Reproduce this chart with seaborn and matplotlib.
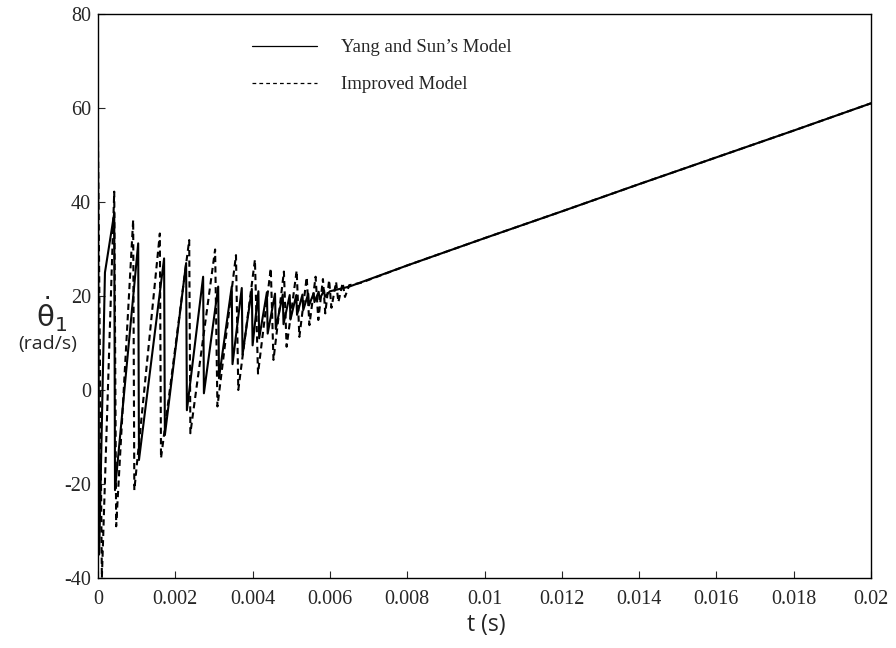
import matplotlib
matplotlib.use("Agg")
import matplotlib.pyplot as plt
import seaborn as sns
import pandas as pd
from matplotlib.lines import Line2D

# ---- data ----
yang_t = [0, 0.00003, 0.00018, 0.00042, 0.00044, 0.00104, 0.00106, 0.00171, 0.00173,
          0.00228, 0.00230, 0.00272, 0.00274, 0.00311, 0.00313, 0.00346, 0.00348,
          0.00372, 0.00374, 0.00398, 0.00400, 0.00415, 0.00417, 0.00437, 0.00439,
          0.00458, 0.00460, 0.00478, 0.00480, 0.00496, 0.00498, 0.00513, 0.00515,
          0.00529, 0.00531, 0.00544, 0.00546, 0.00558, 0.00560, 0.00571, 0.00573,
          0.00585, 0.00587, 0.00600, 0.0065, 0.008, 0.010, 0.012, 0.014, 0.016,
          0.018, 0.020]
yang_v = [53, -35, 25, 37.6, -21.3, 31.2, -14.9, 28, -9.6,
          27, -4.3, 24.1, -0.7, 22, 2.5, 22, 5.5,
          21.7, 7.5, 21.5, 9.5, 21, 11, 20.8, 12,
          20.5, 13, 20.3, 14, 20.2, 15, 20.2, 16,
          20.3, 17, 20.5, 18, 20.6, 18.7, 20.9, 19.3,
          21.2, 19.8, 21, 22, 26.5, 32.3, 38, 43.8, 49.5,
          55.2, 61]

improved_t = [0, 0.00010, 0.00042, 0.00047, 0.00091, 0.00094, 0.00160, 0.00163,
              0.00236, 0.00239, 0.00303, 0.00309, 0.00357, 0.00363, 0.00406, 0.00414,
              0.00447, 0.00454, 0.00481, 0.00488, 0.00514, 0.00521, 0.00540, 0.00547,
              0.00563, 0.00570, 0.00582, 0.00588, 0.00598, 0.00604, 0.00616, 0.00622,
              0.00633, 0.00639, 0.00650, 0.0068, 0.008, 0.010, 0.012, 0.014, 0.016,
              0.018, 0.020]
improved_v = [53, -40, 42.2, -29, 36.2, -21.3, 33.3, -14.5,
              31.9, -9.2, 29.9, -3.5, 28.7, 0, 27.7, 3.5,
              25.9, 6.4, 25.2, 9.2, 25.4, 11.3, 24, 13.8,
              24.1, 14.9, 23.6, 16.3, 23.4, 17.5, 23, 18.7,
              22.8, 19.8, 22.3, 22.8, 26.5, 32.3, 38, 43.8, 49.5,
              55.2, 61]

series_names = ["Yang and Sun\u2019s Model", "Improved Model"]
x_ticks = [0, 0.002, 0.004, 0.006, 0.008, 0.01, 0.012, 0.014, 0.016, 0.018, 0.02]
x_tick_labels = ["0", "0.002", "0.004", "0.006", "0.008", "0.01", "0.012",
                 "0.014", "0.016", "0.018", "0.02"]
y_ticks = [-40, -20, 0, 20, 40, 60, 80]

df = pd.concat([
    pd.DataFrame({"t": yang_t, "v": yang_v, "model": series_names[0]}),
    pd.DataFrame({"t": improved_t, "v": improved_v, "model": series_names[1]}),
], ignore_index=True)

sns.set_style("ticks")
plt.rcParams["font.family"] = ["Liberation Serif", "DejaVu Serif"]
plt.rcParams["mathtext.fontset"] = "dejavusans"
plt.rcParams["axes.unicode_minus"] = False

fig = plt.figure(figsize=(8.96, 6.48), dpi=100)
ax = fig.add_axes([98 / 896, 1 - 578 / 648, 773 / 896, 564 / 648])

sns.lineplot(data=df, x="t", y="v", hue="model", style="model",
             palette={series_names[0]: "black", series_names[1]: "black"},
             dashes={series_names[0]: "", series_names[1]: (3, 2)},
             estimator=None, sort=False, linewidth=1.5, legend=False, ax=ax)

ax.set_xlim(0, 0.02)
ax.set_ylim(-40, 80)
ax.set_xticks(x_ticks)
ax.set_xticklabels(x_tick_labels)
ax.set_yticks(y_ticks)
ax.tick_params(axis="both", direction="in", length=5, width=0.8, labelsize=14.5,
               top=False, right=False)
ax.tick_params(axis="x", pad=9)
ax.tick_params(axis="y", pad=5)
for s in ax.spines.values():
    s.set_visible(True)
    s.set_linewidth(1.0)
    s.set_color("black")
ax.set_xlabel("")
ax.set_ylabel("")

handles = [Line2D([], [], color="black", lw=0.9),
           Line2D([], [], color="black", lw=0.9, dashes=(3, 2.5))]
ax.legend(handles, series_names, loc="upper left",
          bbox_to_anchor=(0.177, 0.985), frameon=False, fontsize=13.5,
          handlelength=3.5, handletextpad=1.25, labelspacing=1.05)

fig.text(486 / 896, 1 - 625 / 648, "t (s)", ha="center", va="center",
         fontsize=16.5, family=["Open Sans", "DejaVu Sans"])
fig.text(52 / 896, 1 - 314 / 648, r"$\dot{\mathrm{\theta}}_{1}$", ha="center",
         va="center", fontsize=21)
fig.text(48 / 896, 1 - 344 / 648, "(rad/s)", ha="center", va="center",
         fontsize=14, family=["Open Sans", "DejaVu Sans"])

fig.savefig("out.png", dpi=100)
